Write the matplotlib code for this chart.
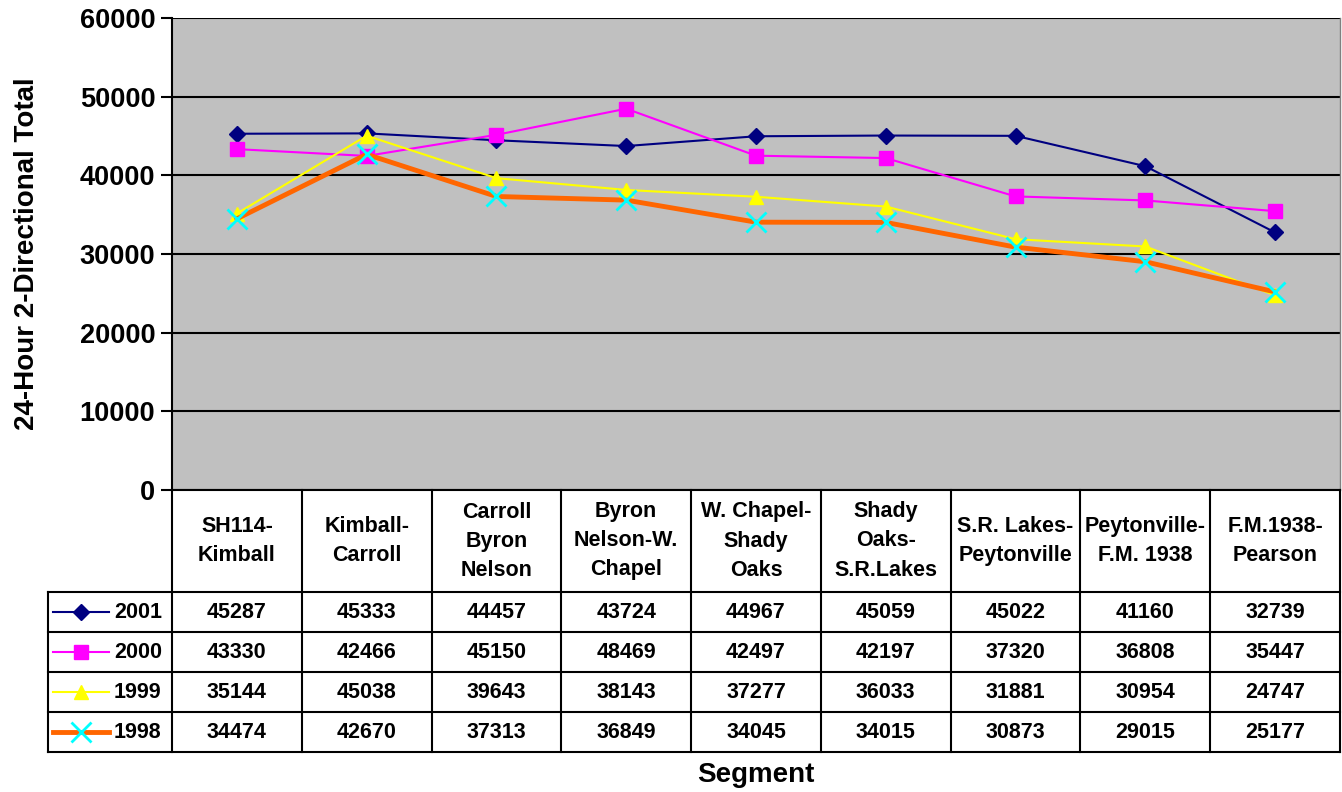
import matplotlib.pyplot as plt
from matplotlib.lines import Line2D

segments = ["SH114-\nKimball", "Kimball-\nCarroll", "Carroll\nByron\nNelson",
            "Byron\nNelson-W.\nChapel", "W. Chapel-\nShady\nOaks", "Shady\nOaks-\nS.R.Lakes",
            "S.R. Lakes-\nPeytonville", "Peytonville-\nF.M. 1938", "F.M.1938-\nPearson"]
years = ["2001", "2000", "1999", "1998"]
y2001 = [45287, 45333, 44457, 43724, 44967, 45059, 45022, 41160, 32739]
y2000 = [43330, 42466, 45150, 48469, 42497, 42197, 37320, 36808, 35447]
y1999 = [35144, 45038, 39643, 38143, 37277, 36033, 31881, 30954, 24747]
y1998 = [34474, 42670, 37313, 36849, 34045, 34015, 30873, 29015, 25177]
yticks = [0, 10000, 20000, 30000, 40000, 50000, 60000]

plt.rcParams["font.family"] = ["Liberation Sans", "DejaVu Sans"]
plt.rcParams["font.weight"] = "bold"

W, H = 1342, 792
fig = plt.figure(figsize=(W / 100, H / 100), dpi=100)

# plot area and table area in pixel layout
px_left, px_right, px_top, px_bottom = 172, 1340, 18, 490
tbl_left, tbl_bottom = 48, 752

ax = fig.add_axes([px_left / W, 1 - px_bottom / H, (px_right - px_left) / W, (px_bottom - px_top) / H])
ax.set_facecolor("#c0c0c0")
ax.set_xlim(-0.5, len(segments) - 0.5)
ax.set_ylim(0, 60000)
ax.set_yticks(yticks)
ax.set_yticklabels([str(t) for t in yticks], fontsize=19.5, fontweight="bold")
ax.yaxis.grid(True, color="black", linewidth=1.5)
ax.set_axisbelow(True)
ax.set_xticks([])
ax.tick_params(axis="y", length=8, width=1.5, pad=4)
for s in ["top", "bottom"]:
    ax.spines[s].set_visible(False)
ax.spines["left"].set_linewidth(1.5)
ax.spines["right"].set_color("#808080")
ax.spines["right"].set_linewidth(1)
ax.set_ylabel("24-Hour 2-Directional Total", fontsize=20, fontweight="bold")
ax.yaxis.set_label_coords((40 - px_left) / (px_right - px_left), 0.5)

styles = [
    dict(color="#000080", lw=1.5, marker="D", ms=8, mfc="#000080", mec="#000080"),
    dict(color="#ff00ff", lw=1.5, marker="s", ms=9.5, mfc="#ff00ff", mec="#ff00ff"),
    dict(color="#ffff00", lw=1.5, marker="^", ms=10, mfc="#ffff00", mec="#ffff00"),
    dict(color="#ff6600", lw=3.5, marker="x", ms=14, mfc="#00ffff", mec="#00ffff", mew=2),
]
series = [y2001, y2000, y1999, y1998]
x = list(range(len(segments)))
for vals, st in zip(series, styles):
    ax.plot(x, vals, clip_on=False, zorder=3, **st)

# data table under the plot
unit = (px_right - px_left) / len(segments)
tax = fig.add_axes([tbl_left / W, 1 - tbl_bottom / H, (px_right - tbl_left) / W, (tbl_bottom - px_bottom) / H])
tax.set_xlim(-0.5 - (px_left - tbl_left) / unit, len(segments) - 0.5)
tax.set_ylim(tbl_bottom - px_bottom, 0)
tax.axis("off")

header_h = 102
row_h = (tbl_bottom - px_bottom - header_h) / len(years)
lw = 1.5
x_label_left = tax.get_xlim()[0]
# horizontal lines
tax.plot([-0.5, len(segments) - 0.5], [0, 0], color="black", lw=lw, clip_on=False)
for r in range(len(years) + 1):
    yy = header_h + r * row_h
    tax.plot([x_label_left, len(segments) - 0.5], [yy, yy], color="black", lw=lw, clip_on=False)
# vertical lines
for i in range(len(segments) + 1):
    tax.plot([i - 0.5, i - 0.5], [0, tbl_bottom - px_bottom], color="black", lw=lw, clip_on=False)
tax.plot([x_label_left, x_label_left], [header_h, tbl_bottom - px_bottom], color="black", lw=lw, clip_on=False)

for i, seg in enumerate(segments):
    tax.text(i, header_h / 2, seg, ha="center", va="center", fontsize=15.5,
             fontweight="bold", linespacing=1.5)

for r, (yr, vals, st) in enumerate(zip(years, series, styles)):
    yc = header_h + (r + 0.5) * row_h
    k0 = x_label_left + 5 / unit
    k1 = x_label_left + 61 / unit
    tax.add_line(Line2D([k0, k1], [yc, yc], color=st["color"], lw=st["lw"]))
    tax.add_line(Line2D([(k0 + k1) / 2], [yc], marker=st["marker"], ms=st["ms"],
                        mfc=st["mfc"], mec=st["mec"], mew=st.get("mew", 1), lw=0))
    tax.text(x_label_left + 66 / unit, yc, yr, ha="left", va="center", fontsize=15.5, fontweight="bold")
    for i, v in enumerate(vals):
        tax.text(i, yc, str(v), ha="center", va="center", fontsize=15.5, fontweight="bold")

fig.text((px_left + px_right) / 2 / W, 1 - 775 / H, "Segment", ha="center", va="center",
         fontsize=20, fontweight="bold")

fig.savefig("out.png", dpi=100)
